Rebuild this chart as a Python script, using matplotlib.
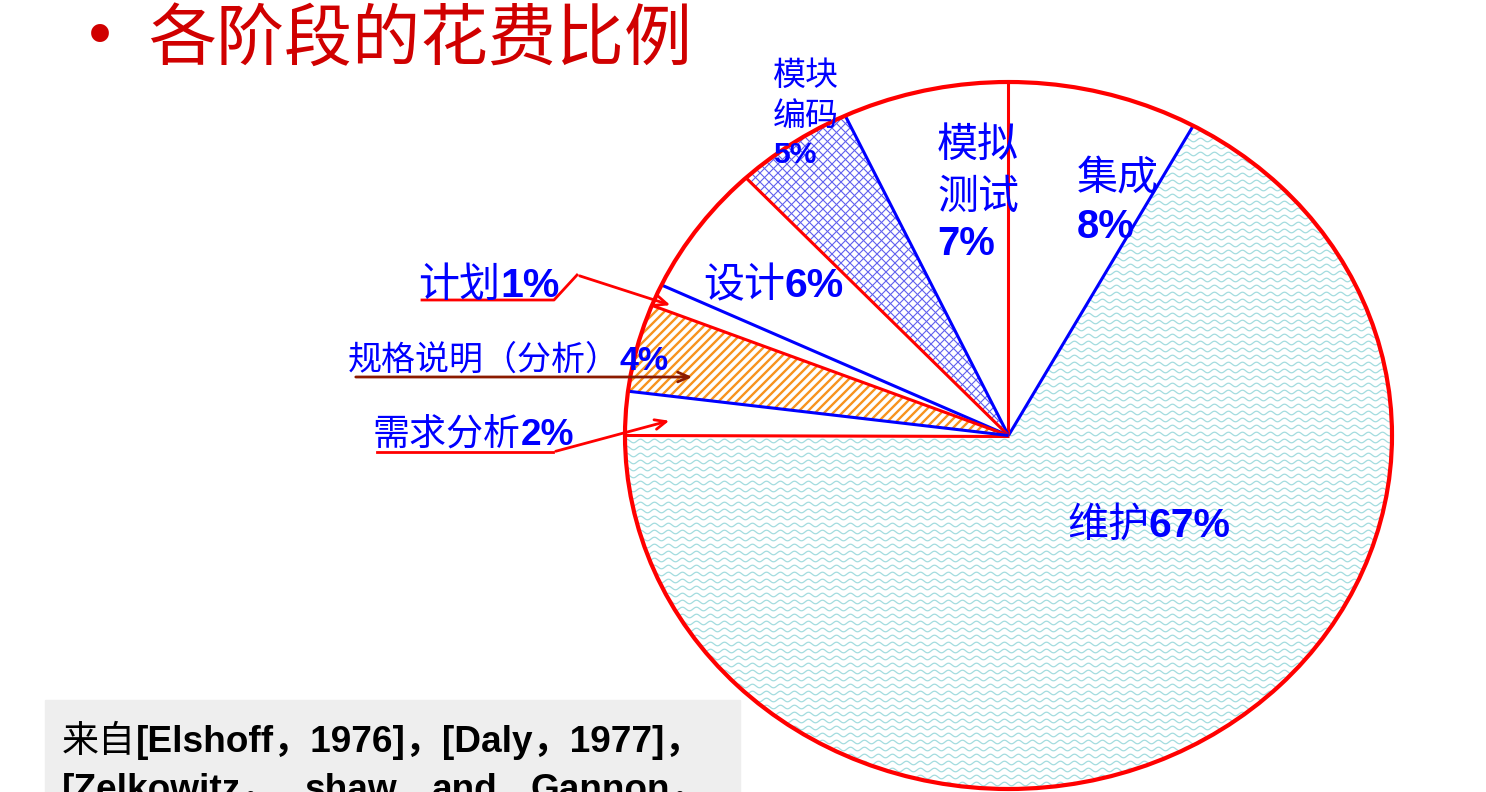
import numpy as np
import matplotlib.pyplot as plt
from matplotlib.patches import Circle, Rectangle
from matplotlib.collections import LineCollection

# 各阶段的花费比例 (百分比)
stages = ['维护', '集成', '模拟测试', '模块编码', '设计', '计划', '规格说明（分析）', '需求分析']
shares = [67, 8, 7, 5, 6, 1, 4, 2]
title = '各阶段的花费比例'
source_line1 = ['来自', '[Elshoff，1976]，[Daly，1977]，']
source_line2 = ['[Zelkowitz，', 'shaw', 'and', 'Gannon，']

CJK = ['Noto Sans CJK SC', 'DejaVu Sans']
LAT = ['Liberation Sans', 'Noto Sans CJK SC', 'DejaVu Sans']
BLUE = '#0000ff'
RED = '#ff0000'

W, H = 1486, 792
fig = plt.figure(figsize=(W / 100, H / 100), dpi=100)

# pie area in pixels (ellipse bounding box)
PL, PR, PT, PB = 625, 1392, 82, 789
cx, cy = (PL + PR) / 2, (PT + PB) / 2
rx, ry = (PR - PL) / 2, (PB - PT) / 2

ax = fig.add_axes([PL / W, (H - PB) / H, (PR - PL) / W, (PB - PT) / H], zorder=1)
wedges, _ = ax.pie(shares, startangle=180, counterclock=True, colors=['white'] * len(shares),
                   wedgeprops=dict(edgecolor='none', linewidth=0))
ax.set_aspect('auto')
ax.set_xlim(-1, 1)
ax.set_ylim(-1, 1)
ax.axis('off')


def to_pie(px, py):
    return np.column_stack([(np.asarray(px) - cx) / rx, (cy - np.asarray(py)) / ry])


# fill patterns (drawn in pixel space, clipped to the wedges)
# wavy lines for 维护
px = np.arange(PL - 5, PR + 5, 1.0)
waves = [to_pie(px, row + 1.8 * np.sin(2 * np.pi * px / 14)) for row in np.arange(PT - 5, PB + 8, 7)]
lc = LineCollection(waves, colors='#a3dcdf', linewidths=0.9, zorder=2)
ax.add_collection(lc)
lc.set_clip_path(wedges[0])

# cross hatch for 模块编码
segs = []
for c in np.arange(600, 1600, 9):
    segs.append(to_pie([700, 1100], [c - 700, c - 1100]))
for c in np.arange(-1100, 0, 9):
    segs.append(to_pie([700, 1100], [700 + c, 1100 + c]))
lc = LineCollection(segs, colors='#6060ee', linewidths=0.8, zorder=2)
ax.add_collection(lc)
lc.set_clip_path(wedges[3])

# orange stripes for 规格说明
segs = [to_pie([600, 1050], [c - 600, c - 1050]) for c in np.arange(850, 1600, 9)]
lc = LineCollection(segs, colors='#f7931e', linewidths=1.7, zorder=2)
ax.add_collection(lc)
lc.set_clip_path(wedges[6])

# radial borders, red and blue in turn
for i, w in enumerate(wedges):
    t = np.deg2rad(w.theta1)
    ax.plot([0, np.cos(t)], [0, np.sin(t)], color=RED if i % 2 == 0 else BLUE,
            lw=2.2, solid_capstyle='butt', zorder=3)
ax.add_patch(Circle((0, 0), 1, fill=False, ec=RED, lw=3, zorder=4, clip_on=False))

# overlay axes in pixel coordinates for texts and arrows
ov = fig.add_axes([0, 0, 1, 1], zorder=5)
ov.set_xlim(0, W)
ov.set_ylim(H, 0)
ov.patch.set_alpha(0)
ov.axis('off')
renderer = fig.canvas.get_renderer()


def mixed(x, y, parts, px_size, color):
    for s, fam, wt in parts:
        t = ov.text(x, y, s, fontsize=px_size * 0.72, family=fam, weight=wt,
                    color=color, ha='left', va='baseline')
        bb = t.get_window_extent(renderer)
        x = ov.transData.inverted().transform((bb.x1, bb.y0))[0]


pct = [f'{s}%' for s in shares]
cw = 'medium'

# one-line labels: name + percent
mixed(1067, 537, [(stages[0], CJK, cw), (pct[0], LAT, 'bold')], 41, BLUE)
mixed(703, 297, [(stages[4], CJK, cw), (pct[4], LAT, 'bold')], 41, BLUE)
mixed(418, 297, [(stages[5], CJK, cw), (pct[5], LAT, 'bold')], 41, BLUE)
mixed(348, 370, [(stages[6], CJK, cw), (pct[6], LAT, 'bold')], 34, BLUE)
mixed(373, 445, [(stages[7], CJK, cw), (pct[7], LAT, 'bold')], 37, BLUE)

# stacked labels
mixed(1077, 190, [(stages[1], CJK, cw)], 41, BLUE)
mixed(1077, 238, [(pct[1], LAT, 'bold')], 40, BLUE)
mixed(937, 157, [(stages[2][:2], CJK, cw)], 41, BLUE)
mixed(937, 209, [(stages[2][2:], CJK, cw)], 41, BLUE)
mixed(937, 255, [(pct[2], LAT, 'bold')], 40, BLUE)
mixed(773, 85, [(stages[3][:2], CJK, cw)], 33, BLUE)
mixed(773, 126, [(stages[3][2:], CJK, cw)], 33, BLUE)
mixed(773, 163, [(pct[3], LAT, 'bold')], 30, BLUE)

# leader lines with arrows
arrow = dict(arrowstyle='->,head_length=0.8,head_width=0.35', lw=2)
ov.plot([422, 554, 577], [300, 300, 275], color=RED, lw=2)
ov.annotate('', xy=(673, 306), xytext=(577, 275), arrowprops=dict(arrow, color=RED))
ov.annotate('', xy=(695, 377), xytext=(353, 377), arrowprops=dict(arrow, color='#8b1a00'))
ov.plot([377, 553], [452, 452], color=RED, lw=2)
ov.annotate('', xy=(672, 420), xytext=(553, 452), arrowprops=dict(arrow, color=RED))

# title
ov.text(100, 56, '•', fontsize=44, color='#d00000', ha='center', va='baseline', family='DejaVu Sans')
ov.text(148, 60, title, fontsize=68 * 0.72, color='#d00000', family=CJK, ha='left', va='baseline')

# source box
ov.add_patch(Rectangle((45, 700), 695, 100, color='#eeeeee', zorder=0))
mixed(62, 752, [(source_line1[0], CJK, 'normal'), (source_line1[1], LAT, 'bold')], 37, 'black')
for word, x in zip(source_line2, [62, 305, 432, 530]):
    ov.text(x, 800, word, fontsize=37 * 0.72, family=LAT, weight='bold', color='black',
            ha='left', va='baseline')

fig.savefig('out.png', dpi=100)
